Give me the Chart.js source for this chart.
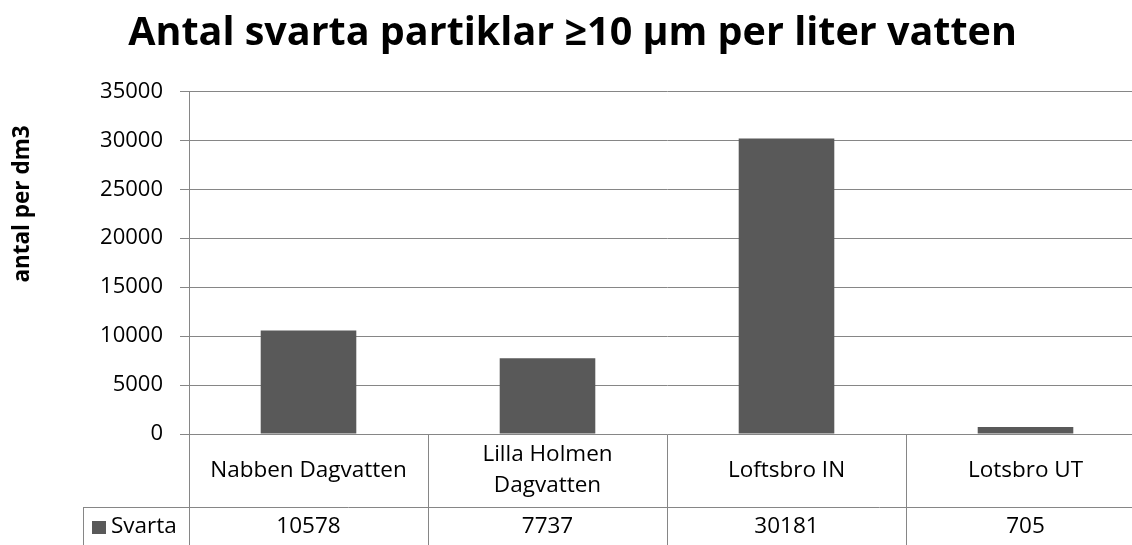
<!DOCTYPE html>
<html>
<head>
<meta charset="utf-8">
<script src="https://cdn.jsdelivr.net/npm/chart.js@4"></script>
<style>
html,body{margin:0;padding:0;overflow:hidden;background:#fff;width:1132px;height:545px}
#wrap{position:absolute;left:0;top:0;width:1146px;height:545px}
</style>
</head>
<body>
<div id="wrap"><canvas id="c" width="1146" height="545"></canvas></div>
<script>
const chartTitle = 'Antal svarta partiklar ≥10 µm per liter vatten';
const yAxisTitle = 'antal per dm3';
const categories = [['Nabben Dagvatten'], ['Lilla Holmen', 'Dagvatten'], ['Loftsbro IN'], ['Lotsbro UT']];
const seriesName = 'Svarta';
const seriesValues = [10578, 7737, 30181, 705];
const yMin = 0;
const yMax = 35000;
const yStep = 5000;

const BAR = '#595959';
const GRID = '#868686';
const FONT = "'Open Sans', sans-serif";

const tablePlugin = {
  id: 'dataTable',
  afterDraw(chart) {
    const ctx = chart.ctx;
    const xs = chart.scales.x;
    const ca = chart.chartArea;
    const n = categories.length;
    const catW = (ca.right - ca.left) / n;
    const rowTop = ca.bottom;
    const rowMid = rowTop + 73;
    const bottom = chart.height + 20;
    const legendLeft = 83;
    const a = v => Math.round(v) + 0.5;

    ctx.save();
    ctx.strokeStyle = GRID;
    ctx.lineWidth = 1;
    ctx.beginPath();
    ctx.moveTo(legendLeft, a(rowMid));
    ctx.lineTo(ca.right, a(rowMid));
    ctx.moveTo(a(legendLeft), a(rowMid));
    ctx.lineTo(a(legendLeft), bottom);
    for (let i = 0; i <= n; i++) {
      const bx = i === n ? xs.getPixelForValue(n - 1) + catW / 2 : xs.getPixelForValue(i) - catW / 2;
      ctx.moveTo(a(bx), a(rowTop));
      ctx.lineTo(a(bx), bottom);
    }
    ctx.stroke();

    ctx.fillStyle = '#000';
    ctx.font = '22.5px ' + FONT;
    ctx.textAlign = 'center';
    ctx.textBaseline = 'middle';
    const catMid = (rowTop + rowMid) / 2;
    const lh = 31;
    categories.forEach((lines, i) => {
      const cx = xs.getPixelForValue(i);
      const y0 = catMid - (lines.length - 1) * lh / 2;
      lines.forEach((t, k) => ctx.fillText(t, cx, y0 + k * lh));
      ctx.fillText(String(seriesValues[i]), cx, rowMid + 20);
    });

    ctx.fillStyle = BAR;
    ctx.fillRect(92, rowMid + 14, 14, 13);
    ctx.fillStyle = '#000';
    ctx.textAlign = 'left';
    ctx.fillText(seriesName, 111, rowMid + 20);

    ctx.save();
    ctx.translate(23, 204);
    ctx.rotate(-Math.PI / 2);
    ctx.font = 'bold 22.5px ' + FONT;
    ctx.textAlign = 'center';
    ctx.textBaseline = 'middle';
    ctx.fillText(yAxisTitle, 0, 0);
    ctx.restore();

    ctx.restore();
  }
};

new Chart(document.getElementById('c'), {
  type: 'bar',
  data: {
    labels: categories,
    datasets: [{
      label: seriesName,
      data: seriesValues,
      backgroundColor: BAR,
      barPercentage: 0.40,
      categoryPercentage: 1.0
    }]
  },
  options: {
    responsive: false,
    animation: false,
    devicePixelRatio: 1,
    layout: { padding: { left: 0, right: 1, top: 0, bottom: 111 } },
    plugins: {
      legend: { display: false },
      tooltip: { enabled: false },
      title: {
        display: true,
        text: chartTitle,
        color: '#000',
        font: { family: FONT, size: 39.5, weight: 'bold' },
        padding: { top: 10, bottom: 34 }
      }
    },
    scales: {
      x: { display: false },
      y: {
        min: yMin,
        max: yMax,
        ticks: {
          stepSize: yStep,
          color: '#000',
          font: { family: FONT, size: 22 },
          padding: 17,
          callback: v => String(v)
        },
        grid: { color: GRID, lineWidth: 1, tickLength: 9 },
        border: { color: GRID },
        afterFit: s => { s.width = 189; }
      }
    }
  },
  plugins: [tablePlugin]
});
</script>
</body>
</html>
